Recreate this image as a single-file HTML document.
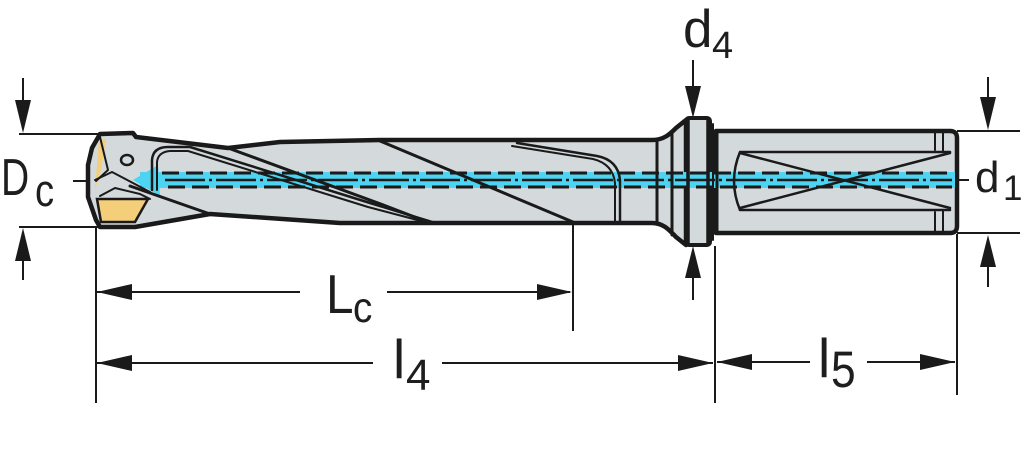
<!DOCTYPE html>
<html><head><meta charset="utf-8"><style>
html,body{margin:0;padding:0;background:#fff;}
svg{display:block;}
text{font-family:"Liberation Sans",sans-serif;fill:#1e1e1e;}
</style></head><body>
<svg width="1024" height="469" viewBox="0 0 1024 469" xmlns="http://www.w3.org/2000/svg">
<rect width="1024" height="469" fill="#fff"/>
<g stroke="#1a1a1a" stroke-linejoin="round" stroke-linecap="round">
<!-- shank -->
<path d="M716,131 L950,131 Q957,131 957,138 L957,226 Q957,233 950,233 L716,233 Z" fill="#D4DADC" stroke-width="4.5"/>
<!-- body -->
<path d="M100,134 L133,133 L136,137 L228,148 L280,142 L380,140 L652,140 C664,140 670,134 676,128 L686,120 L686,245 L676,237 C670,231 664,223 652,223 L340,223 L210,214 L135,227 L100,227 L96,220 L88,197 L88,165 L92,148 Z" fill="#D4DADC" stroke-width="4.5"/>
<!-- collar -->
<rect x="686" y="118" width="24" height="127" rx="3" fill="#D4DADC" stroke-width="4"/>
</g>
<!-- yellow insert -->
<polygon points="97,199 148,199 135,222 101,222" fill="#F4CE78" stroke="#1a1a1a" stroke-width="2.5"/>
<polygon points="99,140 106,139 101,170 95,190" fill="#F4CE78"/>
<!-- blue band -->
<rect x="140" y="172" width="815" height="16" fill="#4CD4F2"/>
<polygon points="133,180 158,165 160,196" fill="#4CD4F2"/>
<g stroke="#1a1a1a" fill="none">
<line x1="162" y1="173" x2="952" y2="173" stroke-width="3" stroke-dasharray="17 7"/>
<line x1="168" y1="187" x2="952" y2="187" stroke-width="3" stroke-dasharray="17 7"/>
<line x1="165" y1="180" x2="952" y2="180" stroke-width="2.5" stroke-dasharray="40 4 3 4"/>
</g>
<g stroke="#1a1a1a" fill="none" stroke-linecap="round" stroke-linejoin="round">
<!-- tip details -->
<ellipse cx="127" cy="160" rx="6" ry="5" stroke-width="2.5"/>
<path d="M100,137 L108,170 L96,181" stroke-width="2"/>
<path d="M95,180 L112,172 L150,192" stroke-width="2"/>
<path d="M100,196 L115,188 L140,194 L150,199" stroke-width="2"/>
<path d="M130,186 L210,214" stroke-width="3"/>
<!-- flutes -->
<path d="M152,190 L152,160 Q153,147 168,147 L190,147 L370,203 L432,222" stroke-width="2.5"/>
<path d="M157,190 L157,162 Q158,152 170,151 L188,151 L368,207 L425,222" stroke-width="2"/>
<path d="M228,148 L378,203 L425,221" stroke-width="3"/>
<path d="M380,141 L573,222" stroke-width="3"/>
<path d="M517,143 L597,156 Q618,160 620,180 L620,222" stroke-width="2.5"/>
<path d="M512,146 L593,159 Q613,164 615,183 L615,222" stroke-width="2"/>
<!-- flare / collar lines -->
<line x1="657" y1="141" x2="657" y2="222" stroke-width="3"/>
<line x1="672" y1="131" x2="672" y2="235" stroke-width="3"/>
<line x1="688" y1="120" x2="688" y2="243" stroke-width="3.5"/>
<line x1="708" y1="120" x2="708" y2="243" stroke-width="3.5"/>
<line x1="713" y1="124" x2="713" y2="240" stroke-width="2"/>
<line x1="717" y1="131" x2="717" y2="233" stroke-width="3"/>
<!-- shank flat -->
<path d="M740,152 L950,152 M740,210 L950,210 M740,152 Q728,181 740,210" stroke-width="2.5"/>
<path d="M740,153 L950,208 M740,208 L950,153" stroke-width="2.5"/>
<path d="M935,133 L935,150 M943,133 L943,152 M935,212 L935,231 M943,210 L943,231" stroke-width="2"/>
</g>
<!-- dimension lines -->
<g stroke="#1a1a1a" stroke-width="2" fill="none">
<line x1="19" y1="134" x2="100" y2="134"/>
<line x1="19" y1="227" x2="100" y2="227"/>
<line x1="23" y1="78" x2="23" y2="102"/>
<line x1="23" y1="258" x2="23" y2="280"/>
<line x1="73" y1="181" x2="90" y2="181"/>
<line x1="96" y1="228" x2="96" y2="403"/>
<line x1="97" y1="292" x2="300" y2="292"/>
<line x1="387" y1="292" x2="570" y2="292"/>
<line x1="573" y1="224" x2="573" y2="331"/>
<line x1="97" y1="363" x2="373" y2="363"/>
<line x1="442" y1="363" x2="713" y2="363"/>
<line x1="715" y1="246" x2="715" y2="403"/>
<line x1="717" y1="362" x2="810" y2="362"/>
<line x1="867" y1="362" x2="955" y2="362"/>
<line x1="957" y1="234" x2="957" y2="395"/>
<line x1="693" y1="60" x2="693" y2="88"/>
<line x1="693" y1="276" x2="693" y2="300"/>
<line x1="957" y1="131" x2="1020" y2="131"/>
<line x1="957" y1="233" x2="1020" y2="233"/>
<line x1="988" y1="77" x2="988" y2="98"/>
<line x1="988" y1="266" x2="988" y2="287"/>
<line x1="959" y1="180" x2="969" y2="180"/>
</g>
<g fill="#1a1a1a">
<polygon points="23,133 15,100 31,100"/>
<polygon points="23,228 15,261 31,261"/>
<polygon points="97,292 132,284 132,300"/>
<polygon points="572,292 537,284 537,300"/>
<polygon points="97,363 132,355 132,371"/>
<polygon points="713,363 678,355 678,371"/>
<polygon points="717,362 752,354 752,370"/>
<polygon points="955,362 920,354 920,370"/>
<polygon points="693,118 685,86 701,86"/>
<polygon points="693,246 685,278 701,278"/>
<polygon points="988,130 980,97 996,97"/>
<polygon points="988,235 980,267 996,267"/>
</g>
<!-- labels -->
<text transform="translate(1,195) scale(0.75,1)" font-size="52">D</text>
<text transform="translate(35,206) scale(0.85,1)" font-size="45">c</text>
<text transform="translate(683,47) scale(1,1)" font-size="53">d</text>
<text transform="translate(712,58) scale(1,1)" font-size="38">4</text>
<text transform="translate(326,313) scale(0.9,1)" font-size="55">L</text>
<text transform="translate(353,322) scale(0.9,1)" font-size="43">c</text>
<text transform="translate(393,378)" font-size="55">l</text>
<text transform="translate(406,390)" font-size="44">4</text>
<text transform="translate(818,377)" font-size="55">l</text>
<text transform="translate(831,387) scale(0.87,1)" font-size="51">5</text>
<text transform="translate(975,192)" font-size="44">d</text>
<text transform="translate(1003,200)" font-size="35">1</text>
</svg>
</body></html>
